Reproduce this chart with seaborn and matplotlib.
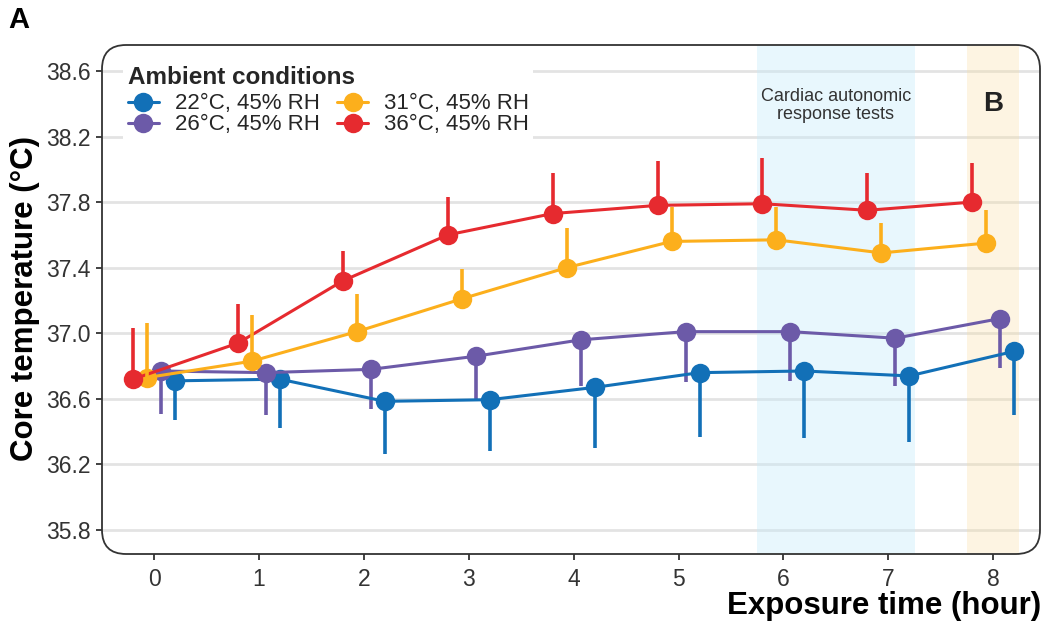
import numpy as np
import pandas as pd
import matplotlib
matplotlib.use("Agg")
import matplotlib.pyplot as plt
from matplotlib.patches import FancyBboxPatch
import seaborn as sns

# ---- data -------------------------------------------------------------
hours = [0, 1, 2, 3, 4, 5, 6, 7, 8]
conditions = ["22°C, 45% RH", "26°C, 45% RH", "31°C, 45% RH", "36°C, 45% RH"]

temp_22 = [36.71, 36.72, 36.585, 36.595, 36.67, 36.76, 36.77, 36.74, 36.89]
temp_26 = [36.77, 36.76, 36.78, 36.86, 36.96, 37.01, 37.01, 36.97, 37.09]
temp_31 = [36.73, 36.83, 37.01, 37.21, 37.40, 37.56, 37.57, 37.49, 37.55]
temp_36 = [36.72, 36.94, 37.32, 37.60, 37.73, 37.78, 37.79, 37.75, 37.80]

sd_22 = [0.24, 0.30, 0.32, 0.31, 0.37, 0.39, 0.41, 0.40, 0.39]
sd_26 = [0.26, 0.26, 0.24, 0.26, 0.28, 0.31, 0.30, 0.29, 0.30]
sd_31 = [0.33, 0.28, 0.23, 0.18, 0.24, 0.21, 0.20, 0.18, 0.20]
sd_36 = [0.31, 0.24, 0.18, 0.23, 0.25, 0.27, 0.28, 0.23, 0.24]

y_ticks = [35.8, 36.2, 36.6, 37.0, 37.4, 37.8, 38.2, 38.6]
x_ticks = [0, 1, 2, 3, 4, 5, 6, 7, 8]

# ---- styling ------------------------------------------------------------
sns.set_theme(style="white")
plt.rcParams["font.family"] = ["Liberation Sans", "DejaVu Sans"]

palette = {
    conditions[0]: "#1270B7",
    conditions[1]: "#6C5AA8",
    conditions[2]: "#FCAF1C",
    conditions[3]: "#E62A2F",
}
# error bars point down for the cooler conditions, up for the warmer ones
err_sign = {conditions[0]: -1, conditions[1]: -1, conditions[2]: 1, conditions[3]: 1}
# horizontal dodge so the series do not overlap
dodge_order = conditions[::-1]
offsets = dict(zip(dodge_order, np.linspace(-0.2, 0.2, len(dodge_order))))
layer = {conditions[1]: 2, conditions[0]: 3, conditions[2]: 4, conditions[3]: 5}

means = [temp_22, temp_26, temp_31, temp_36]
sds = [sd_22, sd_26, sd_31, sd_36]
frames = []
for cond, m, s in zip(conditions, means, sds):
    frames.append(pd.DataFrame({
        "hour": hours,
        "x": np.array(hours) + offsets[cond],
        "temp": m,
        "sd": s,
        "cond": cond,
    }))
df = pd.concat(frames, ignore_index=True)

# ---- figure -------------------------------------------------------------
W, H = 1043, 625
fig = plt.figure(figsize=(W / 100, H / 100), dpi=100)
ax_l, ax_r, ax_t, ax_b = 102, 1040, 45, 554
ax = fig.add_axes([ax_l / W, 1 - ax_b / H, (ax_r - ax_l) / W, (ax_b - ax_t) / H])

ax.set_xlim(-0.496, 8.446)
ax.set_ylim(35.654, 38.758)

# gridlines
for yt in y_ticks:
    ax.axhline(yt, color="#E3E3E3", lw=2.0, zorder=0)

# shaded periods
ax.axvspan(5.75, 7.25, color="#C6EBFA", alpha=0.4, lw=0, zorder=1)
ax.axvspan(7.75, 8.25, color="#F9DDA0", alpha=0.3, lw=0, zorder=1)

# one-sided error bars
for cond in conditions:
    d = df[df["cond"] == cond]
    ax.vlines(d["x"], d["temp"], d["temp"] + err_sign[cond] * d["sd"],
              color=palette[cond], lw=2.6, zorder=layer[cond] - 0.5)

sns.lineplot(data=df, x="x", y="temp", hue="cond", hue_order=conditions,
             palette=palette, marker="o", markersize=14, markeredgewidth=0,
             linewidth=2.2, ax=ax, sort=True)
for line, cond in zip(ax.lines[-len(conditions):], conditions):
    line.set_zorder(layer[cond])

handles, labels = ax.get_legend_handles_labels()
leg = ax.legend(handles, labels, ncol=2, title="Ambient conditions",
                loc="upper left", bbox_to_anchor=(0.011, 0.989),
                fontsize=16, title_fontproperties={"weight": "bold", "size": 17.5},
                frameon=True, facecolor="white", edgecolor="none", framealpha=1,
                fancybox=False, borderpad=0.2, handlelength=1.4,
                handletextpad=0.7, columnspacing=0.8, labelspacing=0.0,
                alignment="left", markerscale=1.0)
leg._legend_box.sep = 3
leg.set_zorder(10)

# annotations
ax.text(6.5, 38.39, "Cardiac autonomic\nresponse tests", ha="center", va="center",
        fontsize=13, color="#333333", linespacing=1.05, zorder=6)
ax.text(8.0, 38.40, "B", ha="center", va="center", fontsize=20,
        fontweight="bold", color="#222222", zorder=6)

# axes and ticks
for sp in ax.spines.values():
    sp.set_visible(False)
ax.set_xticks(x_ticks)
ax.set_yticks(y_ticks)
ax.set_yticklabels([f"{v:.1f}" for v in y_ticks])
ax.tick_params(axis="both", which="both", direction="out", length=4.5, width=1.3,
               color="#333333", labelcolor="#333333", labelsize=16.5,
               left=True, bottom=True)
ax.tick_params(axis="y", pad=3.5)
ax.tick_params(axis="x", pad=5.5)
ax.set_xlabel("")
ax.set_ylabel("")

# rounded panel border
w_px, h_px = ax_r - ax_l, ax_b - ax_t
r_px = 24
border = FancyBboxPatch((0, 0), 1, 1, transform=ax.transAxes,
                        boxstyle=f"round,pad=0,rounding_size={r_px / w_px}",
                        mutation_aspect=w_px / h_px,
                        facecolor="none", edgecolor="#333333", lw=1.3,
                        clip_on=False, zorder=12)
ax.add_patch(border)

fig.text(1041 / W, 1 - 606 / H, "Exposure time (hour)", ha="right", va="center",
         fontsize=22.5, fontweight="bold", color="black")
fig.text(25 / W, 1 - 299 / H, "Core temperature (°C)", ha="center", va="center",
         rotation=90, fontsize=22.5, fontweight="bold", color="black")
fig.text(8 / W, 1 - 20 / H, "A", ha="left", va="center", fontsize=21,
         fontweight="bold", color="black")

fig.savefig("out.png", dpi=100)
